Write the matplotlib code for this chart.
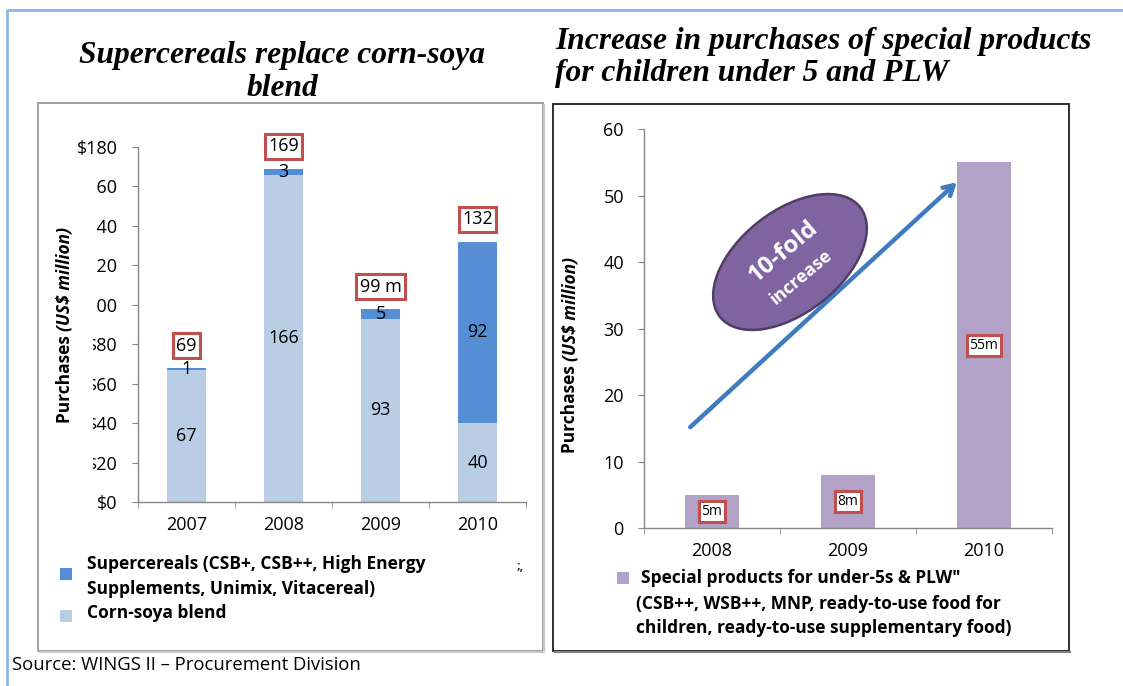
import matplotlib
matplotlib.use("Agg")
import matplotlib.pyplot as plt
from matplotlib.patches import Rectangle, Ellipse
from matplotlib.lines import Line2D
from matplotlib.transforms import Affine2D

plt.rcParams["font.family"] = ["Open Sans", "DejaVu Sans"]

# ---- data ----
years_left = ["2007", "2008", "2009", "2010"]
corn_soya = [67, 166, 93, 40]
supercereals = [1, 3, 5, 92]
total_labels = ["69", "169", "99 m", "132"]
left_ticks = [0, 20, 40, 60, 80, 100, 120, 140, 160, 180]
left_ticklabels = ["$0", "$20", "$40", "$60", "$80", "$100", "$120", "$140", "$160", "$180"]

years_right = ["2008", "2009", "2010"]
special_products = [5, 8, 55]
special_labels = ["5m", "8m", "55m"]
right_ticks = [0, 10, 20, 30, 40, 50, 60]

legend_left = ["Supercereals (CSB+, CSB++, High Energy\nSupplements, Unimix, Vitacereal)",
               "Corn-soya blend"]
legend_right = ["Special products for under-5s & PLW\"",
                "(CSB++, WSB++, MNP, ready-to-use food for",
                "children, ready-to-use supplementary food)"]

C_CORN = "#B9CDE5"
C_SUPER = "#558ED5"
C_SPECIAL = "#B3A2C7"
C_RED = "#C0504D"
C_AXIS = "#878787"

W, H = 1123, 686
fig = plt.figure(figsize=(W / 100, H / 100), dpi=100)
fig.patch.set_facecolor("white")


def fx(x):
    return x / W


def fy(y):
    return 1 - y / H


px = Affine2D().scale(1 / W, 1 / H) + fig.transFigure  # pixel coords, origin bottom-left

# ---- outer frame and panel boxes ----
fig.add_artist(Line2D([fx(7), fx(7), fx(1123)], [fy(686), fy(10), fy(10)],
                      transform=fig.transFigure, color="#8EB4E3", lw=2, zorder=1))
fig.add_artist(Rectangle((fx(38), fy(651)), fx(543) - fx(38), fy(103) - fy(651),
                         transform=fig.transFigure, fill=False, ec="#9A9A9A", lw=1.3, zorder=1))
fig.add_artist(Line2D([fx(40), fx(544), fx(544)], [fy(652), fy(652), fy(105)],
                      transform=fig.transFigure, color="#C8C8C8", lw=1.5, zorder=1))
fig.add_artist(Rectangle((fx(553), fy(651)), fx(1069) - fx(553), fy(104) - fy(651),
                         transform=fig.transFigure, fill=False, ec="#1E1E1E", lw=1.3, zorder=1))
fig.add_artist(Line2D([fx(555), fx(1070)], [fy(652), fy(652)],
                      transform=fig.transFigure, color="#808080", lw=1.5, zorder=1))

# ---- titles ----
title_font = dict(family=["Liberation Serif", "DejaVu Serif"], weight="bold", style="italic", size=22.7)
fig.text(fx(282), fy(56), "Supercereals replace corn-soya", ha="center", va="center", **title_font)
fig.text(fx(282), fy(89), "blend", ha="center", va="center", **title_font)
fig.text(fx(555), fy(41), "Increase in purchases of special products", ha="left", va="center", **title_font)
fig.text(fx(555), fy(74), "for children under 5 and PLW", ha="left", va="center", **title_font)


def style_axes(ax):
    for s in ("top", "right"):
        ax.spines[s].set_visible(False)
    for s in ("left", "bottom"):
        ax.spines[s].set_color(C_AXIS)
        ax.spines[s].set_linewidth(1)
    ax.tick_params(axis="y", direction="out", length=4.5, color=C_AXIS, labelsize=13, pad=10)
    ax.tick_params(axis="x", which="major", length=0, labelsize=13, pad=10)
    ax.tick_params(axis="x", which="minor", direction="out", length=4.5, color=C_AXIS)


# ---- left chart: stacked bars ----
axL = fig.add_axes([fx(138), fy(502), fx(526) - fx(138), fy(147) - fy(502)])
xl = list(range(len(years_left)))
axL.bar(xl, corn_soya, width=0.4, color=C_CORN, zorder=2)
axL.bar(xl, supercereals, width=0.4, bottom=corn_soya, color=C_SUPER, zorder=2)
axL.set_xlim(-0.5, len(years_left) - 0.5)
axL.set_ylim(0, 180)
axL.set_yticks(left_ticks)
axL.set_yticklabels(left_ticklabels)
axL.set_xticks(xl)
axL.set_xticklabels(years_left)
axL.set_xticks([i - 0.5 for i in range(len(years_left) + 1)], minor=True)
style_axes(axL)

for i in xl:
    c, s = corn_soya[i], supercereals[i]
    axL.text(i, c / 2, str(c), ha="center", va="center", fontsize=13, zorder=4)
    axL.text(i, c + s / 2, str(s), ha="center", va="center", fontsize=13, zorder=4)
    axL.annotate(total_labels[i], xy=(i, c + s), xytext=(0, 16), textcoords="offset points",
                 ha="center", va="center", fontsize=13, zorder=5, annotation_clip=False,
                 bbox=dict(boxstyle="square,pad=0.2", fc="white", ec=C_RED, lw=2.2))

# ---- right chart: special products ----
axR = fig.add_axes([fx(644), fy(528.3), fx(1052) - fx(644), fy(129) - fy(528.3)])
xr = list(range(len(years_right)))
axR.bar(xr, special_products, width=0.4, color=C_SPECIAL, zorder=2)
axR.set_xlim(-0.5, len(years_right) - 0.5)
axR.set_ylim(0, 60)
axR.set_yticks(right_ticks)
axR.set_xticks(xr)
axR.set_xticklabels(years_right)
axR.set_xticks([i - 0.5 for i in range(len(years_right) + 1)], minor=True)
style_axes(axR)

for i in xr:
    axR.text(i, special_products[i] / 2, special_labels[i], ha="center", va="center",
             fontsize=10, zorder=5,
             bbox=dict(boxstyle="square,pad=0.2", fc="white", ec=C_RED, lw=2.2))

# growth arrow
axR.annotate("", xy=(1.80, 52.0), xytext=(-0.16, 15.2),
             arrowprops=dict(arrowstyle="->,head_length=0.7,head_width=0.4", lw=3.2,
                             color="#3F7BBF", shrinkA=0, shrinkB=0), zorder=6)

# "10-fold increase" callout
fig.add_artist(Ellipse((790, H - 262), 178, 102, angle=38, transform=px,
                       fc="#8064A2", ec="#4F3D66", lw=1.8, zorder=6))
fig.text(783 / W, 1 - 252 / H, "10-fold", transform=fig.transFigure, rotation=40,
         ha="center", va="center", rotation_mode="anchor", color="white",
         fontsize=17.5, weight="bold", zorder=7)
fig.text(801 / W, 1 - 277 / H, "increase", transform=fig.transFigure, rotation=40,
         ha="center", va="center", rotation_mode="anchor", color="white",
         fontsize=13, weight="bold", zorder=7)

# ---- y-axis titles (bold + bold italic) ----
renderer = fig.canvas.get_renderer()


def y_title(x_base, y_bottom):
    t1 = fig.text(fx(x_base), fy(y_bottom), "Purchases ", rotation=90, rotation_mode="anchor",
                  ha="left", va="baseline", fontsize=12.5, weight="bold", zorder=12)
    bb = t1.get_window_extent(renderer)
    fig.text(fx(x_base), fy(y_bottom) + bb.height / H, "(US$ million)", rotation=90,
             rotation_mode="anchor", ha="left", va="baseline", fontsize=12.5,
             weight="bold", style="italic", zorder=12)


# white strip over the left tick-label column
fig.add_artist(Rectangle((fx(68), fy(484)), fx(93) - fx(68), fy(172) - fy(484),
                         transform=fig.transFigure, fc="white", ec="none", zorder=10))
y_title(70, 423)
y_title(575, 453)

# ---- legends ----
leg_font = dict(fontsize=12.5, weight="bold", va="center", ha="left")
fig.add_artist(Rectangle((60, H - 580), 12, 12, transform=px, fc=C_SUPER, ec="none"))
fig.text(fx(87), fy(564), legend_left[0].split("\n")[0], **leg_font)
fig.text(fx(87), fy(589), legend_left[0].split("\n")[1], **leg_font)
fig.add_artist(Rectangle((60, H - 622), 12, 12, transform=px, fc=C_CORN, ec="none"))
fig.text(fx(87), fy(613), legend_left[1], **leg_font)
fig.text(fx(517), fy(567), ";,", fontsize=9, weight="bold", va="center", ha="left", color="#333333")

fig.add_artist(Rectangle((617, H - 584), 12, 12, transform=px, fc=C_SPECIAL, ec="none"))
fig.text(fx(641), fy(578), legend_right[0], **leg_font)
fig.text(fx(636), fy(604), legend_right[1], **leg_font)
fig.text(fx(636), fy(628), legend_right[2], **leg_font)

# ---- source note ----
fig.text(fx(12), fy(665), "Source: WINGS II \u2013 Procurement Division", fontsize=13.3,
         ha="left", va="center")

fig.savefig("out.png", dpi=100, facecolor="white")
